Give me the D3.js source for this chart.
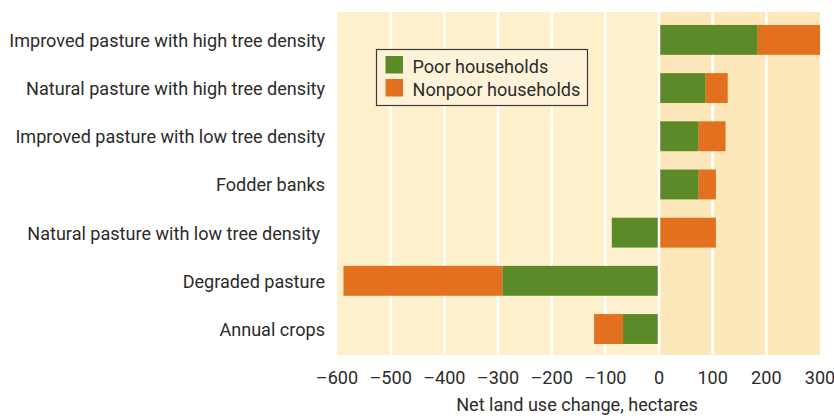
<!DOCTYPE html>
<html>
<head>
<meta charset="utf-8">
<script src="https://cdn.jsdelivr.net/npm/d3@7"></script>
<style>
  body { margin: 0; background: #fff; }
  text { font-family: Roboto, "Liberation Sans", sans-serif; fill: #2b2b2b; font-size: 19px; }
</style>
</head>
<body>
<div id="chart"></div>
<script>
// data
const categories = [
  "Improved pasture with high tree density",
  "Natural pasture with high tree density",
  "Improved pasture with low tree density",
  "Fodder banks",
  "Natural pasture with low tree density",
  "Degraded pasture",
  "Annual crops"
];
const poor = [184, 87, 74, 74, -88, -292, -67];
const nonpoor = [116, 41, 50, 32, 106, -296, -54];
const seriesNames = ["Poor households", "Nonpoor households"];
const xTicks = [-600, -500, -400, -300, -200, -100, 0, 100, 200, 300];

// frame
const FRAME_WIDTH = 834;
const FRAME_HEIGHT = 416;
const PLOT = {left: 337, right: 820, top: 12, bottom: 355};
const GREEN = "#5c8a29";
const ORANGE = "#e3701f";

const svg = d3.select("#chart")
  .append("svg")
    .attr("width", FRAME_WIDTH)
    .attr("height", FRAME_HEIGHT);

const X_SCALE = d3.scaleLinear()
  .domain([-600, 300])
  .range([PLOT.left, PLOT.right]);

const Y_SCALE = d3.scaleBand()
  .domain(categories)
  .range([15.3, 353.6])
  .paddingInner(0.38)
  .paddingOuter(0.2);

// the original uses a condensed face: squeeze Roboto to the same width
const probe = svg.append("text").text(categories[0]);
const SQUEEZE = 316 / probe.node().getComputedTextLength();
probe.remove();

// helper for squeezed text placed at (x, y)
function label(parent, x, y, str, anchor) {
  return parent.append("text")
    .attr("transform", "translate(" + x + "," + y + ") scale(" + SQUEEZE + ",1)")
    .attr("text-anchor", anchor || "start")
    .text(str);
}

// background: lighter for losses, warmer for gains
svg.append("rect")
  .attr("x", X_SCALE(-600)).attr("y", PLOT.top)
  .attr("width", X_SCALE(0) - X_SCALE(-600))
  .attr("height", PLOT.bottom - PLOT.top)
  .attr("fill", "#fef0cc");
svg.append("rect")
  .attr("x", X_SCALE(0)).attr("y", PLOT.top)
  .attr("width", X_SCALE(300) - X_SCALE(0))
  .attr("height", PLOT.bottom - PLOT.top)
  .attr("fill", "#fde8bb");

// vertical white gridlines (inner ones)
svg.selectAll(".grid")
  .data(xTicks.filter(d => d > -600 && d < 300 && d !== 0))
  .enter()
  .append("line")
    .attr("class", "grid")
    .attr("x1", d => X_SCALE(d)).attr("x2", d => X_SCALE(d))
    .attr("y1", PLOT.top).attr("y2", PLOT.bottom)
    .attr("stroke", "#fff")
    .attr("stroke-width", 2.5);

// stacked segments: poor from zero, nonpoor continues from poor end
const rows = categories.map((c, i) => ({cat: c, poor: poor[i], nonpoor: nonpoor[i]}));

function segments(d) {
  let segs = [];
  let posBase = 0, negBase = 0;
  [["poor", GREEN], ["nonpoor", ORANGE]].forEach(([k, col]) => {
    const v = d[k];
    if (v >= 0) { segs.push({cat: d.cat, a: posBase, b: posBase + v, col: col}); posBase += v; }
    else { segs.push({cat: d.cat, a: negBase + v, b: negBase, col: col}); negBase += v; }
  });
  return segs;
}

svg.selectAll(".bar")
  .data(rows.flatMap(segments))
  .enter()
  .append("rect")
    .attr("class", "bar")
    .attr("x", d => X_SCALE(d.a))
    .attr("y", d => Y_SCALE(d.cat))
    .attr("width", d => X_SCALE(d.b) - X_SCALE(d.a))
    .attr("height", Y_SCALE.bandwidth())
    .attr("fill", d => d.col);

// zero gridline on top of the bars
svg.append("line")
  .attr("x1", X_SCALE(0)).attr("x2", X_SCALE(0))
  .attr("y1", PLOT.top).attr("y2", PLOT.bottom)
  .attr("stroke", "#fff")
  .attr("stroke-width", 2.5);

// category labels
categories.forEach(c => {
  // the low tree density label sits a little left in the original
  const right = c === "Natural pasture with low tree density" ? 320 : 325;
  label(svg, right, Y_SCALE(c) + Y_SCALE.bandwidth() / 2 + 7, c, "end");
});

// x tick labels (no axis line, no tick marks)
xTicks.forEach(t => {
  label(svg, X_SCALE(t), 384, t < 0 ? "\u2013" + Math.abs(t) : String(t), "middle");
});

label(svg, 577, 411, "Net land use change, hectares", "middle");

// legend
const legend = svg.append("g");
legend.append("rect")
  .attr("x", 376.5).attr("y", 49.5)
  .attr("width", 211).attr("height", 56)
  .attr("fill", "#fef3d9")
  .attr("stroke", "#3a3a3a")
  .attr("stroke-width", 1.2);
seriesNames.forEach((name, i) => {
  legend.append("rect")
    .attr("x", 385.5).attr("y", 56 + i * 23)
    .attr("width", 17.5).attr("height", 17.5)
    .attr("fill", i === 0 ? GREEN : ORANGE);
  label(legend, 412.5, 73 + i * 23, name);
});
</script>
</body>
</html>
